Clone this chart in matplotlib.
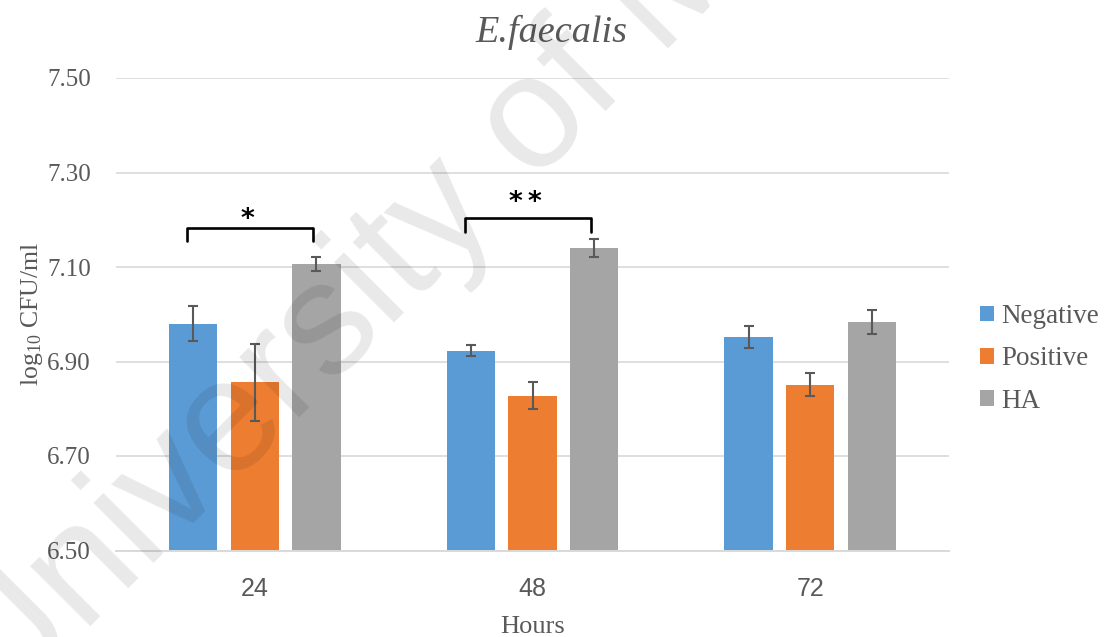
import matplotlib
matplotlib.use("Agg")
import matplotlib.pyplot as plt
from matplotlib.patches import Patch
import numpy as np

# ---- data ----
hours = ["24", "48", "72"]
series = ["Negative", "Positive", "HA"]
negative = [6.980, 6.923, 6.952]
positive = [6.856, 6.828, 6.851]
ha = [7.106, 7.140, 6.984]
negative_err = [0.037, 0.012, 0.023]
positive_err = [0.081, 0.029, 0.024]
ha_err = [0.015, 0.019, 0.025]
y_ticks = [6.50, 6.70, 6.90, 7.10, 7.30, 7.50]

# significance brackets (Negative vs HA) per time point
sig_groups = [0, 1]
sig_tops = [7.183, 7.203]
sig_legs = [7.154, 7.175]
sig_labels = ["*", "*\u2009*"]
sig_label_y = [7.199, 7.235]

colors = ["#5B9BD5", "#ED7D31", "#A5A5A5"]
grey_text = "#595959"

plt.rcParams["mathtext.fontset"] = "custom"
plt.rcParams["mathtext.rm"] = "Liberation Serif"
plt.rcParams["mathtext.it"] = "Liberation Serif:italic"

fig = plt.figure(figsize=(11.12, 6.37), dpi=100)
ax = fig.add_axes([116 / 1112, 1 - 550.5 / 637, (949 - 116) / 1112, (550.5 - 78) / 637])

x = np.arange(len(hours))
width = 0.174
pitch = 0.222
values = [negative, positive, ha]
errors = [negative_err, positive_err, ha_err]
for i, (vals, errs, c) in enumerate(zip(values, errors, colors)):
    ax.bar(x + (i - 1) * pitch, vals, width, color=c, zorder=2, label=series[i],
           edgecolor="none")
    ax.errorbar(x + (i - 1) * pitch, vals, yerr=errs, fmt="none", ecolor="#595959",
                elinewidth=1.5, capsize=3.8, capthick=1.5, zorder=3)

ax.set_ylim(6.50, 7.50)
ax.set_xlim(-0.5, 2.5)
ax.set_yticks(y_ticks)
ax.set_yticklabels([f"{v:.2f}" for v in y_ticks], family="Liberation Serif",
                   fontsize=18, color=grey_text)
ax.set_xticks(x)
ax.set_xticklabels(hours, family=["Liberation Sans Narrow", "Liberation Sans"],
                   fontsize=18, color=grey_text)
ax.tick_params(axis="y", length=0, pad=18)
ax.tick_params(axis="x", length=0, pad=19)
ax.yaxis.grid(True, color="#D9D9D9", lw=1.2, zorder=0)
ax.set_axisbelow(True)
for s in ["top", "right", "left"]:
    ax.spines[s].set_visible(False)
ax.spines["bottom"].set_color("#D9D9D9")
ax.spines["bottom"].set_linewidth(1.4)

ax.set_ylabel(r"log$_{10}$ CFU/ml", family="Liberation Serif", fontsize=18.5,
              color=grey_text)
ax.yaxis.set_label_coords(-0.085, 0.5)
ax.set_xlabel("Hours", family="Liberation Serif", fontsize=19, color=grey_text)
ax.xaxis.set_label_coords(0.5, -0.138)

# significance brackets between Negative and HA
for g, top, leg, lab, ly in zip(sig_groups, sig_tops, sig_legs, sig_labels, sig_label_y):
    x0 = g - pitch - 0.022
    x1 = g + pitch - 0.012
    ax.plot([x0, x0, x1, x1], [leg, top, top, leg], color="black", lw=1.9,
            solid_joinstyle="round", solid_capstyle="round", zorder=4)
    ax.text((x0 + x1) / 2 - 0.01, ly, lab, ha="center", va="center",
            fontsize=19, family="DejaVu Sans", weight="bold", color="black")

fig.text(551 / 1112, 1 - 42 / 637, "E.faecalis", ha="center", va="baseline",
         family="Liberation Serif", style="italic", fontsize=27.5, color=grey_text)

handles = [Patch(facecolor=c, edgecolor="none") for c in colors]
fig.legend(handles, series, loc="center left", bbox_to_anchor=(980 / 1112, 1 - 359 / 637),
           frameon=False, prop={"family": "Liberation Serif", "size": 19.5},
           labelcolor=grey_text, handlelength=0.5, handleheight=0.5,
           handletextpad=0.3, labelspacing=0.64, borderaxespad=0, borderpad=0)

# faint diagonal text across the figure
fig.text(1 / 1112, 1 - 716 / 637, "University of Malaya", rotation=45,
         rotation_mode="anchor", ha="left", va="baseline", fontsize=116,
         family="Liberation Sans", color=(0, 0, 0, 0.09), zorder=10)

fig.savefig("out.png", dpi=100)
